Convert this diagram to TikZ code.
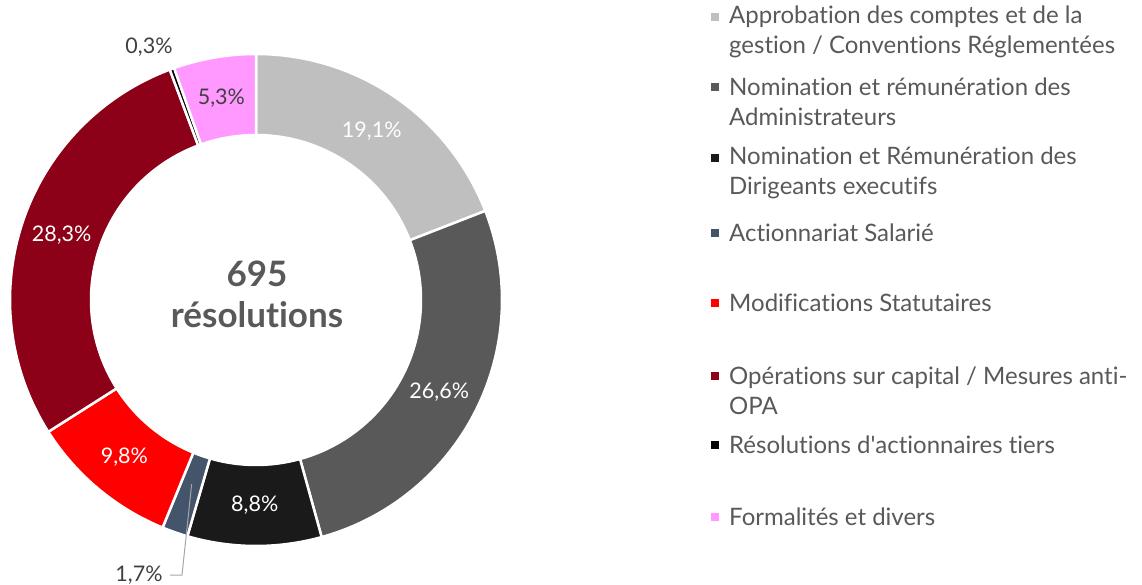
\documentclass[tikz,border=0pt]{standalone}
\usepackage{fontspec}
\setmainfont{Lato}[Ligatures={TeX,NoCommon}]
\usepackage{xcolor}
\usepackage{tikz}
\usetikzlibrary{positioning}

\definecolor{approb}{HTML}{BFBFBF}
\definecolor{nomadm}{HTML}{595959}
\definecolor{nomdir}{HTML}{1A1A1A}
\definecolor{salarie}{HTML}{44546A}
\definecolor{statut}{HTML}{FF0000}
\definecolor{capital}{HTML}{8C0018}
\definecolor{tiers}{HTML}{000000}
\definecolor{formal}{HTML}{FF99FF}
\definecolor{txtgray}{HTML}{595959}
\definecolor{labgray}{HTML}{404040}
\definecolor{leadgray}{HTML}{A6A6A6}

\begin{document}
\begin{tikzpicture}[x=1pt,y=1pt]
            \tikzstyle{seg}=[draw=white,line width=2.5pt];
            \tikzstyle{pct}=[font=\fontsize{21.5}{25}\selectfont,text=white,inner sep=0pt];
            \tikzstyle{pctout}=[font=\fontsize{21.5}{25}\selectfont,text=labgray,inner sep=0pt];
            \tikzstyle{key}=[minimum size=8pt,inner sep=0pt];
            \tikzstyle{leg}=[anchor=west,align=left,inner sep=0pt,text=txtgray,font=\fontsize{24}{30}\selectfont];
            \useasboundingbox (0,0) rectangle (1142,584);
            % ring
            \begin{scope}[shift={(256,284)}]
            \draw[seg,fill=approb] (90:246) arc[start angle=90,end angle=21.24,radius=246] -- (21.24:165) arc[start angle=21.24,end angle=90,radius=165] -- cycle;
            \draw[seg,fill=nomadm] (21.24:246) arc[start angle=21.24,end angle=-74.52,radius=246] -- (-74.52:165) arc[start angle=-74.52,end angle=21.24,radius=165] -- cycle;
            \draw[seg,fill=nomdir] (-74.52:246) arc[start angle=-74.52,end angle=-106.2,radius=246] -- (-106.2:165) arc[start angle=-106.2,end angle=-74.52,radius=165] -- cycle;
            \draw[seg,fill=salarie] (-106.2:246) arc[start angle=-106.2,end angle=-112.32,radius=246] -- (-112.32:165) arc[start angle=-112.32,end angle=-106.2,radius=165] -- cycle;
            \draw[seg,fill=statut] (-112.32:246) arc[start angle=-112.32,end angle=-147.6,radius=246] -- (-147.6:165) arc[start angle=-147.6,end angle=-112.32,radius=165] -- cycle;
            \draw[seg,fill=capital] (-147.6:246) arc[start angle=-147.6,end angle=-249.48,radius=246] -- (-249.48:165) arc[start angle=-249.48,end angle=-147.6,radius=165] -- cycle;
            \draw[seg,fill=tiers] (-249.48:246) arc[start angle=-249.48,end angle=-250.56,radius=246] -- (-250.56:165) arc[start angle=-250.56,end angle=-249.48,radius=165] -- cycle;
            \draw[seg,fill=formal] (-250.56:246) arc[start angle=-250.56,end angle=-270,radius=246] -- (-270:165) arc[start angle=-270,end angle=-250.56,radius=165] -- cycle;
            % values
            \node[pct] (p1) at (55.62:205) {19,1\%};
            \node[pct] (p2) at (-26.64:205) {26,6\%};
            \node[pct] (p3) at (-90.36:205) {8,8\%};
            \node[pct] (p5) at (-129.96:205) {9,8\%};
            \node[pct] (p6) at (-198.54:205) {28,3\%};
            \node[pctout] (p8) at (-260.28:205) {5,3\%};
            \coordinate (a4) at (-109.26:195);
            \end{scope}
            \node[pctout] (p4) at (139,9) {1,7\%};
            \node[pctout] (p7) at (149,537) {0,3\%};
            \coordinate (b4) at (182,9);
            \path[draw,leadgray,line width=1pt] (a4) -- (b4) -- ++(-12,0);
            % centre
            \node[text=txtgray,font=\fontsize{35}{41}\selectfont\bfseries,align=center] (tot) at (257,290) {695\\résolutions};
            % legend
            \node[key,fill=approb] (k1) at (715,567) {};
            \node[key,fill=nomadm] (k2) at (715,497) {};
            \node[key,fill=nomdir] (k3) at (715,426) {};
            \node[key,fill=salarie] (k4) at (715,351) {};
            \node[key,fill=statut] (k5) at (715,281) {};
            \node[key,fill=capital] (k6) at (715,208) {};
            \node[key,fill=tiers] (k7) at (715,139) {};
            \node[key,fill=formal] (k8) at (715,67) {};
            \node[leg] (t1) at (729,552) {Approbation des comptes et de la\\gestion / Conventions Réglementées};
            \node[leg] (t2) at (729,482) {Nomination et rémunération des\\Administrateurs};
            \node[leg] (t3) at (729,411) {Nomination et Rémunération des\\Dirigeants executifs};
            \node[leg] (t4) at (729,351) {Actionnariat Salarié};
            \node[leg] (t5) at (729,281) {Modifications Statutaires};
            \node[leg] (t6) at (729,193) {Opérations sur capital / Mesures anti-\\OPA};
            \node[leg] (t7) at (729,139) {Résolutions d\textquotesingle actionnaires tiers};
            \node[leg] (t8) at (729,67) {Formalités et divers};
        \end{tikzpicture}
\end{document}
